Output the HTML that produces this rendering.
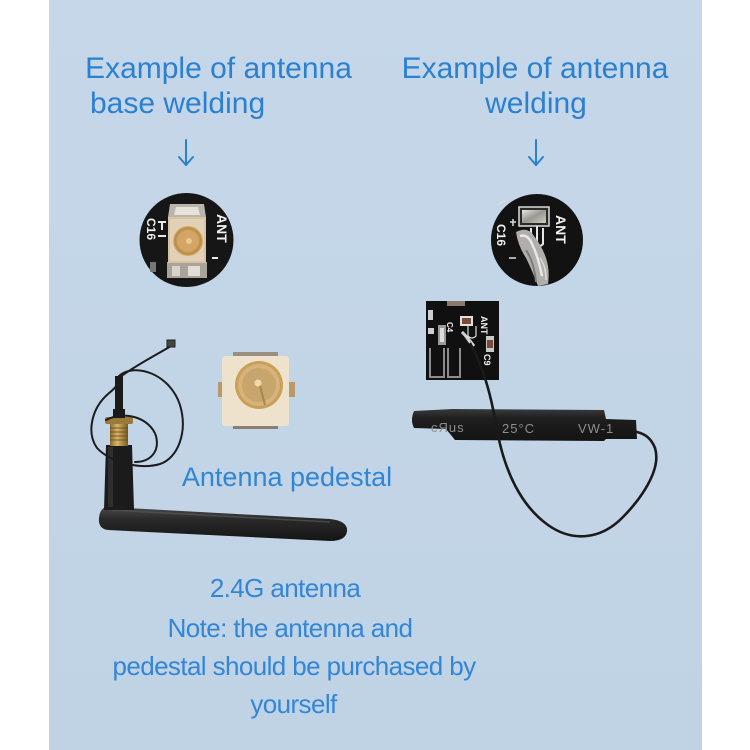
<!DOCTYPE html>
<html>
<head>
<meta charset="utf-8">
<style>
  html,body{margin:0;padding:0;background:#ffffff;}
  body{width:750px;height:750px;overflow:hidden;}
  svg{display:block;}
  .t{font-family:"Liberation Sans","Noto Sans CJK SC",sans-serif;fill:#2b80d0;}
  .b{font-family:"Liberation Sans","Noto Sans CJK SC",sans-serif;fill:#3386d6;}
  .w{font-family:"Liberation Sans","Noto Sans CJK SC",sans-serif;fill:#f2f2f2;font-weight:bold;}
</style>
</head>
<body>
<svg width="750" height="750" viewBox="0 0 750 750" xmlns="http://www.w3.org/2000/svg">
  <defs>
    <linearGradient id="bg" x1="0" y1="0" x2="0" y2="1">
      <stop offset="0" stop-color="#c5d7e9"/>
      <stop offset="1" stop-color="#c0d3e5"/>
    </linearGradient>
    <linearGradient id="rub" x1="0" y1="0" x2="0" y2="1">
      <stop offset="0" stop-color="#4a4a4a"/>
      <stop offset="0.35" stop-color="#2a2a2a"/>
      <stop offset="1" stop-color="#151515"/>
    </linearGradient>
    <linearGradient id="tube" x1="0" y1="0" x2="0" y2="1">
      <stop offset="0" stop-color="#3a3a3a"/>
      <stop offset="0.3" stop-color="#1e1e1e"/>
      <stop offset="1" stop-color="#141414"/>
    </linearGradient>
    <linearGradient id="gold" x1="0" y1="0" x2="1" y2="0">
      <stop offset="0" stop-color="#8a6a2c"/>
      <stop offset="0.4" stop-color="#d8b46a"/>
      <stop offset="1" stop-color="#7a5a22"/>
    </linearGradient>
    <linearGradient id="silver" x1="0" y1="0" x2="1" y2="1">
      <stop offset="0" stop-color="#e8e6e2"/>
      <stop offset="0.5" stop-color="#9a9690"/>
      <stop offset="1" stop-color="#d0ccc6"/>
    </linearGradient>
    <radialGradient id="ring" cx="0.5" cy="0.5" r="0.5">
      <stop offset="0" stop-color="#d9b27a"/>
      <stop offset="0.7" stop-color="#cfa468"/>
      <stop offset="0.85" stop-color="#b8893f"/>
      <stop offset="1" stop-color="#d7b173"/>
    </radialGradient>
  </defs>

  <!-- panel -->
  <rect x="49" y="0" width="653" height="750" fill="url(#bg)"/>

  <!-- Titles -->
  <text class="t" x="218.5" y="78" font-size="30" text-anchor="middle">Example of antenna</text>
  <text class="t" x="90" y="113" font-size="30">base welding</text>
  <text class="t" x="535" y="78" font-size="30" text-anchor="middle">Example of antenna</text>
  <text class="t" x="536" y="113" font-size="30" text-anchor="middle">welding</text>

  <!-- arrows -->
  <g stroke="#2b80d0" stroke-width="2" fill="none" stroke-linecap="round" stroke-linejoin="round">
    <line x1="186" y1="140" x2="186" y2="165"/>
    <polyline points="179,157 186,165 193,157"/>
    <line x1="536" y1="140" x2="536" y2="165"/>
    <polyline points="529,157 536,165 543,157"/>
  </g>

  <!-- Left circle (pedestal welded) -->
  <g>
    <circle cx="186.5" cy="240" r="47" fill="#161616"/>
    <!-- top pad -->
    <polygon points="170,204 204,204 206,217 168,217" fill="#b9b4ac"/>
    <polygon points="176,207 198,207 200,215 174,215" fill="#e6e2da"/>
    <!-- bottom pads -->
    <rect x="167" y="262" width="40" height="16" fill="#a8a39b"/>
    <rect x="172" y="266" width="8" height="10" fill="#d8d4cc"/>
    <rect x="188" y="266" width="12" height="10" fill="#e2ded6"/>
    <rect x="150" y="262" width="6" height="10" fill="#777"/>
    <!-- beige connector -->
    <rect x="168" y="217" width="38" height="46" fill="#d8c2a4"/>
    <rect x="170" y="219" width="34" height="42" fill="#e3d1b7"/>
    <circle cx="188" cy="241" r="15" fill="url(#ring)"/>
    <circle cx="188" cy="241" r="10" fill="#d4a566"/>
    <circle cx="189" cy="241" r="3" fill="#ecc790"/>
    <!-- markings -->
    <text class="w" font-size="14" transform="translate(217,214) rotate(90)">ANT</text>
    <text class="w" font-size="12" transform="translate(147,218) rotate(90)">C16</text>
    <g stroke="#e8e8e8" stroke-width="2" fill="none">
      <line x1="158" y1="222" x2="166" y2="222"/>
      <line x1="162" y1="222" x2="162" y2="230"/>
      <line x1="158" y1="236" x2="166" y2="236"/>
      <line x1="212" y1="258" x2="218" y2="258"/>
    </g>
  </g>

  <!-- Right circle (wire welded) -->
  <g>
    <circle cx="537" cy="240" r="46" fill="#121212"/>
    <rect x="519" y="207" width="30" height="19" fill="#2a2a2a" stroke="#dcdcdc" stroke-width="1.5"/>
    <rect x="522" y="210" width="24" height="13" fill="url(#silver)"/>
    <path d="M531,228 L531,244 Q537,250 543,244 L543,228" fill="none" stroke="#e6e6e6" stroke-width="2"/>
    <line x1="537" y1="226" x2="537" y2="246" stroke="#e6e6e6" stroke-width="2"/>
    <text class="w" font-size="14" transform="translate(556,215) rotate(90)">ANT</text>
    <text class="w" font-size="12" transform="translate(497,224) rotate(90)">C16</text>
    <g stroke="#dcdcdc" stroke-width="1.5" fill="none">
      <line x1="510" y1="222" x2="516" y2="222"/>
      <line x1="513" y1="219" x2="513" y2="226"/>
      <line x1="509" y1="258" x2="516" y2="258"/>
      <line x1="497" y1="205" x2="506" y2="200"/>
    </g>
    <!-- solder blob and wire -->
    <path d="M516,232 Q528,226 534,236 Q542,246 546,258 Q550,270 548,284 L538,286 Q532,270 526,258 Q518,246 516,232 Z" fill="#b0adaa"/>
    <path d="M520,236 Q528,234 532,244 Q538,256 542,276" fill="none" stroke="#e8e8e8" stroke-width="2.5"/>
    <path d="M526,250 Q534,262 536,282" fill="none" stroke="#7d7b78" stroke-width="2"/>
    <path d="M540,258 Q546,266 546,280" fill="none" stroke="#dcdad6" stroke-width="1.5"/>
  </g>

  <!-- Left: antenna assembly -->
  <!-- rubber antenna -->
  <path d="M108,507 L330,519 Q348,521 347,531 Q346,541 330,541 L108,530 Q98,529 99,518 Q100,507 108,507 Z" fill="url(#rub)"/>
  <path d="M112,510 L330,522" stroke="#555" stroke-width="1.5" fill="none" opacity="0.7"/>
  <!-- housing -->
  <path d="M106,445 L132,445 L134,510 L104,510 Z" fill="#1b1b1b"/>
  <rect x="108" y="447" width="5" height="60" fill="#333" opacity="0.8"/>
  <!-- gold thread -->
  <rect x="110" y="423" width="18" height="23" fill="url(#gold)"/>
  <g stroke="#5a4418" stroke-width="0.8">
    <line x1="110" y1="428" x2="128" y2="428"/>
    <line x1="110" y1="432" x2="128" y2="432"/>
    <line x1="110" y1="436" x2="128" y2="436"/>
    <line x1="110" y1="440" x2="128" y2="440"/>
  </g>
  <rect x="105" y="417" width="28" height="7" rx="2" fill="#9a7a3a"/>
  <!-- stub -->
  <rect x="113" y="409" width="12" height="9" fill="#1a1a1a"/>
  <rect x="115" y="376" width="8" height="34" fill="#1a1a1a"/>
  <!-- cable loops -->
  <g fill="none" stroke="#1c1c1c" stroke-width="2" stroke-linecap="round">
    <path d="M171,346 C158,354 138,364 120,377"/>
    <path d="M119,376 C135,362 170,374 180,405 C188,432 178,458 160,464 C140,470 110,462 97,448 C86,432 92,408 108,394 C113,390 117,386 119,382"/>
    <path d="M106,420 C125,410 150,418 156,436 C160,452 150,462 135,462"/>
  </g>
  <rect x="167" y="340" width="8" height="7" fill="#444" stroke="#222" stroke-width="1"/>

  <!-- pedestal -->
  <g>
    <rect x="233" y="352" width="45" height="4" fill="#9a8f80"/>
    <rect x="233" y="425" width="45" height="4" fill="#8a7f70"/>
    <rect x="218" y="382" width="6" height="15" fill="#b89a6a"/>
    <rect x="289" y="382" width="6" height="15" fill="#b89a6a"/>
    <rect x="222" y="356" width="67" height="70" rx="3" fill="#efe2cc"/>
    <circle cx="259" cy="385" r="24" fill="#c9a058"/>
    <circle cx="259" cy="385" r="21" fill="#d7b27a"/>
    <circle cx="259" cy="385" r="17" fill="#c9a56e"/>
    <circle cx="258" cy="383" r="3.5" fill="#f0d8a8"/>
    <path d="M260,386 L265,405" stroke="#a88550" stroke-width="2"/>
  </g>
  <text class="t" x="287" y="486" font-size="27" text-anchor="middle" style="fill:#2f86d6">Antenna pedestal</text>

  <!-- Right: PCB square -->
  <g>
    <rect x="426" y="301" width="73" height="79" fill="#101010"/>
    <rect x="447" y="301" width="18" height="5" fill="#8a7a6a"/>
    <rect x="460" y="316" width="13" height="10" fill="#e0e0e0"/>
    <rect x="462" y="318" width="9" height="6" fill="#7a4a3a"/>
    <rect x="438" y="325" width="8" height="20" fill="#9a9a9a"/>
    <rect x="440" y="328" width="4" height="14" fill="#dcdcdc"/>
    <rect x="428" y="310" width="5" height="10" fill="#cfcfcf"/>
    <rect x="428" y="328" width="6" height="6" fill="#cfcfcf"/>
    <rect x="486" y="336" width="8" height="16" fill="#c8c8c8"/>
    <rect x="487" y="340" width="6" height="8" fill="#7a4a3a"/>
    <path d="M430,348 L430,377 L444,377 L444,348 M448,348 L448,377 L460,377 L460,348" fill="none" stroke="#8c8c8c" stroke-width="2"/>
    <text class="w" font-size="9" transform="translate(481,316) rotate(90)">ANT</text>
    <text class="w" font-size="9" transform="translate(484,354) rotate(90)">C9</text>
    <text class="w" font-size="8" transform="translate(447,322) rotate(90)">C4</text>
    <path d="M462,332 Q468,338 474,346" stroke="#d8d8d8" stroke-width="3" fill="none"/>
    <path d="M468,326 L468,336 Q472,340 476,336 L476,326" stroke="#e0e0e0" stroke-width="1.2" fill="none"/>
  </g>

  <!-- Heat shrink tube -->
  <path d="M414,411 L452,409 L604,410 L606,419 L636,420 L637,439 L606,439 L604,441 L455,440 L446,429 L414,428 Q410,420 414,411 Z" fill="url(#tube)"/>
  <g font-family="Liberation Sans, sans-serif" font-size="13" fill="#8d8d8d" letter-spacing="1">
    <text x="431" y="432">cЯus</text>
    <text x="502" y="433">25°C</text>
    <text x="578" y="433">VW-1</text>
  </g>

  <!-- cable right -->
  <path d="M470,343 C485,370 492,400 498,435 C505,470 520,505 548,525 C572,542 600,540 622,518 C640,500 662,470 655,448 C651,438 645,434 637,432" fill="none" stroke="#1a1a1a" stroke-width="2.6" stroke-linecap="round"/>
  <path d="M462,332 Q466,337 470,343" fill="none" stroke="#d0d0d0" stroke-width="2"/>

  <!-- Bottom text -->
  <g class="b" font-size="26" letter-spacing="-0.6" text-anchor="middle">
    <text x="285" y="597">2.4G antenna</text>
    <text x="290" y="637">Note: the antenna and</text>
    <text x="294" y="675">pedestal should be purchased by</text>
    <text x="293.5" y="713">yourself</text>
  </g>
</svg>
</body>
</html>
